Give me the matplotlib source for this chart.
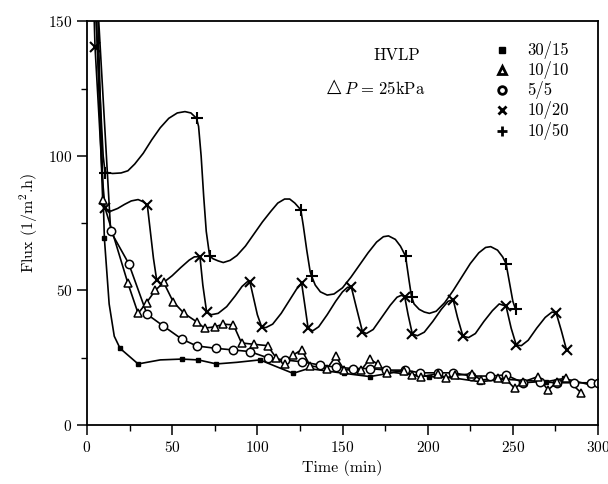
import numpy as np
import matplotlib.pyplot as plt

plt.rcParams['font.family'] = 'serif'
plt.rcParams['font.serif'] = ['cmr10', 'DejaVu Serif']
plt.rcParams['mathtext.fontset'] = 'cm'
plt.rcParams['axes.formatter.use_mathtext'] = True

# ------------------------------------------------------------
# Data (t in min, flux in 1/m2.h)
# ------------------------------------------------------------
# 10/50 (+): drawn line and markers
t_1050_line = [4.5, 7, 9.5, 10.6, 15, 20, 24, 28, 33, 38, 43, 48, 53, 57.5, 61, 64.3,
               65.5, 67, 68.5, 70, 72, 74, 77, 80, 84, 88, 93, 98, 103, 108, 112, 116,
               119, 122, 125.5, 127, 129, 131, 131.8, 134, 137, 141, 145, 150, 155, 160,
               165, 170, 174, 177, 181, 184, 187, 189, 190.5, 192, 195, 198, 201, 205,
               210, 215, 220, 225, 230, 234, 237, 241, 244, 246, 248, 250, 251.6]
f_1050_line = [160, 130, 100, 94, 93.5, 93.7, 94.5, 97, 101, 106, 110.5, 114, 116, 116.5, 116, 114,
               111, 100, 85, 72, 62.8, 61.8, 61, 60.4, 61.2, 63, 66.5, 71, 75.5, 79.5, 82.5, 84,
               84, 82.5, 80, 74, 65, 57, 55.4, 52, 49.5, 48.3, 48.7, 51, 55, 59.5,
               64, 68, 70, 70.3, 69, 66.5, 62.8, 54, 47.7, 45, 43, 42, 41.5, 42.3,
               45.5, 50, 55, 60, 64, 66, 66.3, 65, 62.5, 60, 53, 46, 43]
t_1050_pts = [10.6, 64.3, 72, 125.5, 131.8, 187, 190.5, 246, 251.6]
f_1050_pts = [93.6, 114, 62.8, 80, 55.4, 62.8, 47.7, 60, 43]

# 10/20 (x)
t_1020_line = [3.8, 4.7, 7, 9, 10.6, 14, 18, 22, 26, 30, 33, 35.4, 37, 39, 40.9, 43, 45, 50,
               55, 60, 63, 66.3, 68, 70.2, 73, 77, 82, 87, 91, 94, 95.6, 97.5, 100, 102.5,
               105, 109, 114, 119, 123, 126, 128, 129.8, 132.5, 136, 141, 146, 150, 153,
               155.2, 158, 161.7, 164, 168, 173, 178, 182, 184.5, 186.5, 188.5, 191, 194,
               198, 203, 208, 212, 215, 217.5, 220.7, 224, 228, 233, 238, 242, 246, 249,
               252, 255, 259, 264, 269, 273, 275.5, 278.5, 281.5]
f_1020_line = [160, 140.6, 115, 92, 80.5, 79.5, 80.5, 82, 83.3, 83.8, 83, 81.8, 73, 62, 53.9, 52.5, 53, 55.5,
               58.5, 61.3, 62.5, 62.6, 52, 42.1, 41, 41.5, 44, 48, 51.5, 53.2, 53.3, 48, 41, 36.5,
               36.2, 37.5, 41.5, 46.5, 50.5, 52.7, 44, 36, 35, 36.5, 41, 46, 49.5, 51.2,
               51.2, 44, 34.7, 34, 35.5, 40, 44.5, 47.5, 48.2, 47.7, 41, 33.8, 33.2,
               34.5, 38.5, 43, 46, 46.5, 40, 33, 32.5, 34, 38.5, 42.5, 45, 44.2, 36,
               29.7, 29.5, 31.5, 36, 40, 42, 41.5, 35, 27.9]
t_1020_pts = [4.7, 10.6, 35.4, 40.9, 66.3, 70.2, 95.6, 102.5, 126, 129.8, 155.2, 161.7,
              186.5, 191, 215, 220.7, 246, 252, 275.5, 281.5]
f_1020_pts = [140.6, 80.5, 81.8, 53.9, 62.6, 42.1, 53.3, 36.5, 52.7, 36, 51.2, 34.7,
              47.7, 33.8, 46.5, 33, 44.2, 29.7, 41.5, 27.9]

# 10/10 (triangle)
t_1010_line = [5, 9.2, 24, 30, 35, 40, 45, 50.6, 57, 64.3, 69, 75, 80, 86, 90.7, 98, 106,
               111, 116, 121, 126, 131, 141, 146, 151, 161, 166, 171, 176, 186, 191, 196,
               206, 211, 216, 226, 231.5, 241, 246, 251, 256, 264.7, 270.6, 276, 281.3, 290]
f_1010_line = [160, 83.6, 52.7, 41.5, 45.5, 50, 53, 45.8, 41.5, 38.4, 36, 36.5, 37.5, 37.2, 30.5, 30, 29.5,
               25, 22.5, 26, 28, 22, 21, 25.5, 20.5, 20.5, 24.5, 22.5, 19.5, 20, 18.5, 18,
               19, 17.5, 18.5, 19, 16.7, 17.5, 17, 13.6, 16, 18, 13, 16, 17.3, 12]
t_1010_pts = t_1010_line[1:]
f_1010_pts = f_1010_line[1:]

# 5/5 (circle)
t_55_line = [6, 13.9, 24.5, 35.2, 44.8, 55.5, 64.3, 75.7, 85.8, 95.6, 106, 116, 126, 136.7,
             146, 156, 166, 175.7, 186.5, 195.7, 206, 215, 225.6, 236.4, 246, 256, 265.7,
             276, 286, 296, 300]
f_55_line = [160, 72, 60, 41.2, 36.8, 32, 29.4, 28.5, 27.9, 27.3, 25, 24.2, 23.5, 22.3,
             21.5, 21, 21, 20.4, 20.4, 19.4, 19.4, 19.4, 18.2, 18.2, 18.6, 15.7, 16.1,
             15.7, 15.7, 15.7, 15.5]
t_55_pts = t_55_line[1:]
f_55_pts = f_55_line[1:]

# 30/15 (square)
t_3015_line = [6, 10.2, 13, 16, 19.4, 30, 43, 55.5, 65.3, 76, 88, 101.5, 110, 121, 130, 151,
               166, 180, 201, 215, 230.5, 245, 269.6, 280, 295]
f_3015_line = [160, 69.4, 45, 33, 28.5, 22.7, 24.2, 24.5, 24.2, 22.7, 23.3, 24.2, 22, 19.2, 21, 19.2,
               18, 19.5, 18, 17.5, 16.1, 17, 16.1, 17.3, 15]
t_3015_pts = [10.2, 19.4, 30, 55.5, 65.3, 76, 101.5, 121, 151, 166, 201, 230.5, 269.6, 280]
f_3015_pts = [69.4, 28.5, 22.7, 24.5, 24.2, 22.7, 24.2, 19.2, 19.2, 18, 18, 16.1, 16.1, 17.3]

labels = ['30/15', '10/10', '5/5', '10/20', '10/50']

# ------------------------------------------------------------
fig = plt.figure(figsize=(6.08, 4.84), dpi=100)
ax = fig.add_axes([0.1431, 0.1219, 0.8405, 0.8337])

lw = 1.2
ax.plot(t_3015_line, f_3015_line, '-', color='black', lw=lw)
ax.plot(t_55_line, f_55_line, '-', color='black', lw=lw)
ax.plot(t_1010_line, f_1010_line, '-', color='black', lw=lw)
ax.plot(t_1020_line, f_1020_line, '-', color='black', lw=lw)
ax.plot(t_1050_line, f_1050_line, '-', color='black', lw=lw)

ax.plot(t_3015_pts, f_3015_pts, 's', color='black', ms=3.2, ls='none')
ax.plot(t_55_pts, f_55_pts, 'o', mfc='white', mec='black', mew=1.1, ms=6, ls='none')
ax.plot(t_1010_pts, f_1010_pts, '^', mfc='white', mec='black', mew=1.1, ms=6, ls='none')
ax.plot(t_1020_pts, f_1020_pts, 'x', color='black', mew=1.5, ms=7, ls='none')
ax.plot(t_1050_pts, f_1050_pts, '+', color='black', mew=1.5, ms=8, ls='none')

ax.set_xlim(0, 300)
ax.set_ylim(0, 150)
ax.set_xticks(np.arange(0, 301, 50))
ax.set_xticks(np.arange(25, 300, 50), minor=True)
ax.set_yticks(np.arange(0, 151, 50))
ax.set_yticks(np.arange(25, 150, 50), minor=True)
ax.tick_params(which='major', direction='out', length=7, width=1.1, labelsize=11)
ax.tick_params(which='minor', direction='out', length=4, width=1.0)
for sp in ax.spines.values():
    sp.set_linewidth(1.3)

ax.set_xlabel('Time (min)', fontsize=11.5, labelpad=4)
ax.set_ylabel(r'Flux (1/m$^2$.h)', fontsize=11.5, labelpad=6)

# annotation text
ax.text(0.607, 0.917, 'HVLP', transform=ax.transAxes, ha='center', va='center', fontsize=12)
ax.text(0.470, 0.838, '\u25B3', transform=ax.transAxes, ha='left', va='center',
        fontsize=13.5, family='DejaVu Sans')
ax.text(0.503, 0.835, r'$P\,=\,25\mathrm{kPa}$', transform=ax.transAxes,
        ha='left', va='center', fontsize=12)

# hand-placed key
key_x = 0.812
key_tx = 0.862
key_y = [0.929, 0.879, 0.830, 0.780, 0.728]
ax.plot(key_x, key_y[0], 's', color='black', ms=4, transform=ax.transAxes)
ax.plot(key_x, key_y[1], '^', mfc='white', mec='black', mew=2, ms=5.5, transform=ax.transAxes)
ax.plot(key_x, key_y[2], 'o', mfc='white', mec='black', mew=2, ms=5.5, transform=ax.transAxes)
ax.plot(key_x, key_y[3], 'x', color='black', mew=2, ms=6, transform=ax.transAxes)
ax.plot(key_x, key_y[4], '+', color='black', mew=2, ms=7, transform=ax.transAxes)
for yy, lab in zip(key_y, labels):
    ax.text(key_tx, yy, lab, transform=ax.transAxes, ha='left', va='center', fontsize=12)

plt.savefig('out.png', dpi=100)
